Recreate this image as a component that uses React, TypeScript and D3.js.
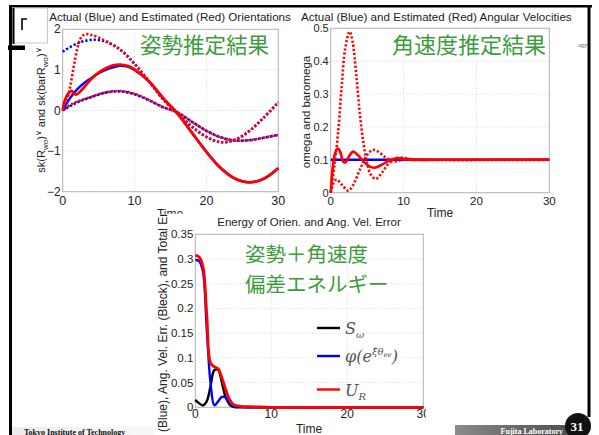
import React from "react";
import * as d3 from "d3";

// ---- orientation panel (top left)
const oriXTicks = [0, 10, 20, 30];
const oriYTicks = [-2, -1, 0, 1, 2];

const oriBlueSolidT = [0, 1, 2, 3, 4, 5, 6, 7, 8, 9, 10, 12, 14, 16, 18, 20, 22, 24, 26, 28, 30];
const oriBlueSolid = [0, 0.3, 0.52, 0.68, 0.8, 0.92, 1.0, 1.06, 1.1, 1.08, 1.0, 0.72, 0.3, -0.08, -0.55, -1.02, -1.42, -1.68, -1.77, -1.68, -1.42];
const oriRedSolidT = [0, 0.3, 0.7, 1, 1.3, 1.7, 2, 2.5, 3, 4, 5, 6, 7, 8, 9, 10, 12, 14, 16, 18, 20, 22, 24, 26, 28, 30];
const oriRedSolid = [0, 0.25, 0.4, 0.46, 0.48, 0.4, 0.4, 0.48, 0.58, 0.78, 0.93, 1.04, 1.11, 1.13, 1.1, 1.01, 0.72, 0.3, -0.08, -0.55, -1.02, -1.42, -1.68, -1.77, -1.68, -1.42];

const oriBlueTopT = [0, 2, 4, 6, 8, 10, 12, 14, 16, 18, 20, 22, 24, 26, 28, 30];
const oriBlueTop = [1.45, 1.65, 1.74, 1.7, 1.5, 1.15, 0.72, 0.27, -0.07, -0.4, -0.65, -0.78, -0.72, -0.5, -0.17, 0.2];
const oriRedTopT = [0, 0.5, 1, 1.5, 2, 2.5, 3, 3.5, 4, 5, 6, 8, 10, 12, 14, 16, 18, 20, 22, 24, 26, 28, 30];
const oriRedTop = [0, 0.2, 0.55, 1.05, 1.5, 1.78, 1.87, 1.88, 1.86, 1.8, 1.7, 1.5, 1.15, 0.72, 0.27, -0.07, -0.4, -0.65, -0.78, -0.72, -0.5, -0.17, 0.2];

const oriBlueLowT = [0, 2, 4, 6, 8, 10, 12, 14, 16, 18, 20, 22, 24, 26, 28, 30];
const oriBlueLow = [0, 0.2, 0.33, 0.44, 0.47, 0.4, 0.25, 0.08, -0.05, -0.28, -0.5, -0.66, -0.74, -0.73, -0.67, -0.6];
const oriRedLowT = [0, 1, 2, 4, 6, 8, 10, 12, 14, 16, 18, 20, 22, 24, 26, 28, 30];
const oriRedLow = [0, 0.13, 0.22, 0.34, 0.45, 0.48, 0.41, 0.26, 0.08, -0.05, -0.28, -0.5, -0.66, -0.74, -0.73, -0.67, -0.6];

// ---- angular velocity panel (top right)
const velXTicks = [0, 10, 20, 30];
const velYTicks = [0, 0.1, 0.2, 0.3, 0.4, 0.5];

const velBlueT = [0, 30];
const velBlue = [0.1, 0.1];
const velRedBigT = [0, 0.5, 1, 1.5, 2, 2.6, 3, 3.5, 4, 4.5, 5, 5.5, 6.2, 7, 8, 9, 10, 11, 12, 14, 30];
const velRedBig = [0, 0.08, 0.18, 0.32, 0.44, 0.49, 0.46, 0.36, 0.24, 0.15, 0.09, 0.055, 0.042, 0.06, 0.09, 0.105, 0.106, 0.102, 0.1, 0.1, 0.1];
const velRedLowT = [0, 0.4, 0.8, 1.5, 2.4, 3, 4, 5, 5.8, 6.5, 7.5, 8.5, 9.5, 10.5, 12, 30];
const velRedLow = [0, 0.03, 0.04, 0.025, 0.006, 0.02, 0.07, 0.115, 0.13, 0.125, 0.108, 0.095, 0.098, 0.102, 0.1, 0.1];
const velRedSolidT = [0, 0.3, 0.6, 1, 1.3, 1.7, 2, 2.5, 3.1, 3.7, 4.5, 5.3, 6, 7, 8, 9, 10, 11, 12, 30];
const velRedSolid = [0, 0.08, 0.12, 0.135, 0.125, 0.095, 0.092, 0.11, 0.125, 0.115, 0.095, 0.08, 0.076, 0.085, 0.098, 0.105, 0.103, 0.1, 0.1, 0.1];

// ---- energy panel (bottom)
const engXTicks = [0, 10, 20, 30];
const engYTicks = [0, 0.05, 0.1, 0.15, 0.2, 0.25, 0.3, 0.35];

const engT = [0, 0.5, 1, 1.5, 2, 2.5, 3, 3.5, 4, 4.5, 5, 6, 8, 10, 30];
const engS = [0.015, 0.008, 0.004, 0.012, 0.042, 0.075, 0.076, 0.05, 0.02, 0.006, 0.001, 0, 0, 0, 0];
const engPhi = [0.298, 0.296, 0.275, 0.16, 0.05, 0.004, 0.012, 0.021, 0.02, 0.01, 0.003, 0.001, 0, 0, 0];
const engU = [0.308, 0.304, 0.285, 0.19, 0.09, 0.082, 0.078, 0.06, 0.036, 0.016, 0.006, 0.002, 0.001, 0, 0];

const SANS = "'Liberation Sans', Arial, sans-serif";
const JP = "'Noto Sans CJK JP', sans-serif";
const GREEN = "#3c9c3c";
const BLUE = "#0000ff";
const RED = "#ff0000";

type Trace = { t: number[]; v: number[]; color: string; width: number; dash?: string; offset?: number };

type PanelProps = {
  left: number; right: number; top: number; bottom: number;
  xMax: number; yMin: number; yMax: number;
  xTicks: number[]; yTicks: number[];
  yFmt: (v: number) => string;
  xLabelGap: number;
  tickSize: number;
  traces: Trace[];
};

function Panel(p: PanelProps) {
  const x = d3.scaleLinear().domain([0, p.xMax]).range([p.left, p.right]);
  const y = d3.scaleLinear().domain([p.yMin, p.yMax]).range([p.bottom, p.top]);
  const line = d3
    .line<[number, number]>()
    .x(d => x(d[0]))
    .y(d => y(d[1]))
    .curve(d3.curveCatmullRom.alpha(0.5));

  return (
    <g>
      <rect x={p.left} y={p.top} width={p.right - p.left} height={p.bottom - p.top} fill="#fff" />
      {p.xTicks.map(t => (
        <line key={"gx" + t} x1={x(t)} x2={x(t)} y1={p.top} y2={p.bottom} stroke="#d6d6d6" strokeDasharray="1,2" />
      ))}
      {p.yTicks.map(v => (
        <line key={"gy" + v} x1={p.left} x2={p.right} y1={y(v)} y2={y(v)} stroke="#d6d6d6" strokeDasharray="1,2" />
      ))}
      <rect x={p.left} y={p.top} width={p.right - p.left} height={p.bottom - p.top} fill="none" stroke="#b4b4b4" />
      {p.traces.map((tr, i) => (
        <path
          key={i}
          d={line(tr.t.map((t, j) => [t, tr.v[j]] as [number, number])) || ""}
          fill="none"
          stroke={tr.color}
          strokeWidth={tr.width}
          strokeDasharray={tr.dash}
          strokeDashoffset={tr.offset}
          strokeLinejoin="round"
        />
      ))}
      {p.xTicks.map(t => (
        <text key={"tx" + t} x={x(t)} y={p.bottom + p.xLabelGap} textAnchor="middle" fontFamily={SANS} fontSize={p.tickSize + 0.5} fill="#222">
          {t}
        </text>
      ))}
      {p.yTicks.map(v => (
        <text key={"ty" + v} x={p.left - 2} y={y(v) + 4} textAnchor="end" fontFamily={SANS} fontSize={p.tickSize} fill="#222">
          {p.yFmt(v)}
        </text>
      ))}
    </g>
  );
}

const dotB = { dash: "2.2,2", width: 2.6 };

export default function App() {
  const fmtInt = (v: number) => (v < 0 ? "\u2212" + Math.abs(v) : String(v));
  const fmtDec = (v: number) => (v === 0 ? "0" : String(+v.toFixed(2)));

  return (
    <svg width={599} height={435} style={{ position: "absolute", left: 0, top: 0, background: "#fff" }}>
      <defs>
        <clipPath id="clipVel">
          <rect x={290} y={0} width={286} height={220} />
        </clipPath>
        <clipPath id="clipEng">
          <rect x={150} y={213.5} width={276} height={222} />
        </clipPath>
        <linearGradient id="fujita" x1="0" x2="1">
          <stop offset="0" stopColor="#8a8a8a" />
          <stop offset="1" stopColor="#4a4a4a" />
        </linearGradient>
        <linearGradient id="tokyo" x1="0" x2="1">
          <stop offset="0" stopColor="#ececec" />
          <stop offset="1" stopColor="#f8f8f8" />
        </linearGradient>
      </defs>

      {/* slide frame */}
      <rect x={9} y={5} width={583} height={2.5} fill="#000" />
      <rect x={9} y={5} width={3} height={430} fill="#000" />
      <rect x={587.5} y={5} width={3} height={412} fill="#000" />
      <rect x={12.5} y={8} width={35} height={35} fill="none" stroke="#bbb" strokeWidth={0.8} />
      <rect x={12.5} y={8} width={2} height={36} fill="#000" />
      <path d="M22,30 V19 H27" fill="none" stroke="#000" strokeWidth={1.6} />
      <rect x={8} y={45.5} width={17} height={4.5} fill="#000" />
      <text x={578} y={47} fontFamily="'Liberation Serif', serif" fontSize={6} fill="#555">ogy</text>

      {/* orientation panel */}
      <g>
        <text x={170} y={21} textAnchor="middle" fontFamily={SANS} fontSize={11.6} fill="#222">
          Actual (Blue) and Estimated (Red) Orientations
        </text>
        <Panel
          left={62.7} right={278.3} top={29.3} bottom={191.7}
          xMax={30} yMin={-2} yMax={2}
          xTicks={oriXTicks} yTicks={oriYTicks} yFmt={fmtInt} xLabelGap={13} tickSize={12}
          traces={[
            { t: oriBlueTopT, v: oriBlueTop, color: BLUE, ...dotB },
            { t: oriBlueLowT, v: oriBlueLow, color: BLUE, ...dotB },
            { t: oriRedTopT, v: oriRedTop, color: RED, ...dotB, offset: 2.1 },
            { t: oriRedLowT, v: oriRedLow, color: RED, ...dotB, offset: 2.1 },
            { t: oriBlueSolidT, v: oriBlueSolid, color: BLUE, width: 2.4 },
            { t: oriRedSolidT, v: oriRedSolid, color: RED, width: 2.8 },
          ]}
        />
        <text transform="translate(45,110) rotate(-90)" textAnchor="middle" fontFamily={SANS} fontSize={11} fill="#222">
          <tspan>sk(R</tspan>
          <tspan dy={3} fontSize={8}>wo</tspan>
          <tspan dy={-3}>)</tspan>
          <tspan dy={-4} fontSize={8}>{"\u2228"}</tspan>
          <tspan dy={4}> and sk(barR</tspan>
          <tspan dy={3} fontSize={8}>wo</tspan>
          <tspan dy={-3}>)</tspan>
          <tspan dy={-4} fontSize={8}>{"\u2228"}</tspan>
        </text>
        <text x={170} y={218} textAnchor="middle" fontFamily={SANS} fontSize={12} fill="#222">Time</text>
        <text x={140} y={53} fontFamily={JP} fontSize={21.5} fill={GREEN}>姿勢推定結果</text>
      </g>

      {/* angular velocity panel */}
      <g>
        <g clipPath="url(#clipVel)">
          <text x={301} y={21} fontFamily={SANS} fontSize={11.6} fill="#222">
            Actual (Blue) and Estimated (Red) Angular Velocities
          </text>
        </g>
        <Panel
          left={330.7} right={549.3} top={28.3} bottom={192.7}
          xMax={30} yMin={0} yMax={0.5}
          xTicks={velXTicks} yTicks={velYTicks} yFmt={fmtDec} xLabelGap={12.5} tickSize={11}
          traces={[
            { t: velBlueT, v: velBlue, color: BLUE, width: 2.6 },
            { t: velRedBigT, v: velRedBig, color: RED, ...dotB },
            { t: velRedLowT, v: velRedLow, color: RED, ...dotB },
            { t: velRedSolidT, v: velRedSolid, color: RED, width: 2.6 },
          ]}
        />
        <text transform="translate(310,112) rotate(-90)" textAnchor="middle" fontFamily={SANS} fontSize={11.5} fill="#222">
          omega and baromega
        </text>
        <text x={440} y={217} textAnchor="middle" fontFamily={SANS} fontSize={12} fill="#222">Time</text>
        <text x={392} y={53} fontFamily={JP} fontSize={22} fill={GREEN}>角速度推定結果</text>
      </g>

      {/* energy panel */}
      <g clipPath="url(#clipEng)">
        <rect x={150} y={213.5} width={276} height={222} fill="#fff" />
        <text x={309} y={226} textAnchor="middle" fontFamily={SANS} fontSize={11.5} fill="#222">
          Energy of Orien. and Ang. Vel. Error
        </text>
        <Panel
          left={195.3} right={423.3} top={234.3} bottom={407.3}
          xMax={30} yMin={0} yMax={0.35}
          xTicks={engXTicks} yTicks={engYTicks} yFmt={fmtDec} xLabelGap={10.5} tickSize={11.5}
          traces={[
            { t: engT, v: engS, color: "#000", width: 2.4 },
            { t: engT, v: engPhi, color: BLUE, width: 2.4 },
            { t: engT, v: engU, color: RED, width: 2.8 },
          ]}
        />
        <text transform="translate(167,432) rotate(-90)" fontFamily={SANS} fontSize={12} fill="#222">
          (Blue), Ang. Vel. Err. (Bleck), and Total Energy (Red)
        </text>
        <text x={309} y={433} textAnchor="middle" fontFamily={SANS} fontSize={12} fill="#222">Time</text>
        <text x={245} y={262} fontFamily={JP} fontSize={20.5} fill={GREEN}>姿勢＋角速度</text>
        <text x={245} y={292} fontFamily={JP} fontSize={20.5} fill={GREEN}>偏差エネルギー</text>

        {/* legend */}
        <line x1={317} x2={340} y1={328} y2={328} stroke="#000" strokeWidth={2.4} />
        <line x1={317} x2={340} y1={356} y2={356} stroke={BLUE} strokeWidth={2.4} />
        <line x1={317} x2={340} y1={389.5} y2={389.5} stroke={RED} strokeWidth={2.4} />
        <text x={345} y={334} fontFamily="'DejaVu Serif', serif" fontStyle="italic" fontSize={16} fill="#555">
          S<tspan dy={4} fontSize={10}>ω</tspan>
        </text>
        <text x={345} y={362} fontFamily="'DejaVu Serif', serif" fontStyle="italic" fontSize={16} fill="#555">
          φ(e<tspan dy={-7} fontSize={10}>ξ̂θ</tspan>
          <tspan dy={2} fontSize={7}>ee</tspan>
          <tspan dy={5} fontSize={16}>)</tspan>
        </text>
        <text x={345} y={396} fontFamily="'DejaVu Serif', serif" fontStyle="italic" fontSize={16} fill="#555">
          U<tspan dy={4} fontSize={10}>R</tspan>
        </text>
      </g>

      {/* footer */}
      <rect x={12} y={427} width={142} height={8} fill="url(#tokyo)" />
      <text x={24} y={434.5} fontFamily="'Liberation Serif', serif" fontWeight="bold" fontSize={8} fill="#111">
        Tokyo Institute of Technology
      </text>
      <rect x={455} y={425} width={125} height={10} fill="url(#fujita)" />
      <text x={563} y={434} textAnchor="end" fontFamily="'Liberation Serif', serif" fontWeight="bold" fontSize={8} fill="#fff">
        Fujita Laboratory
      </text>
      <circle cx={578} cy={426} r={13} fill="#111" />
      <text x={577} y={431} textAnchor="middle" fontFamily="'Liberation Serif', serif" fontWeight="bold" fontSize={13} fill="#fff">
        31
      </text>
    </svg>
  );
}
